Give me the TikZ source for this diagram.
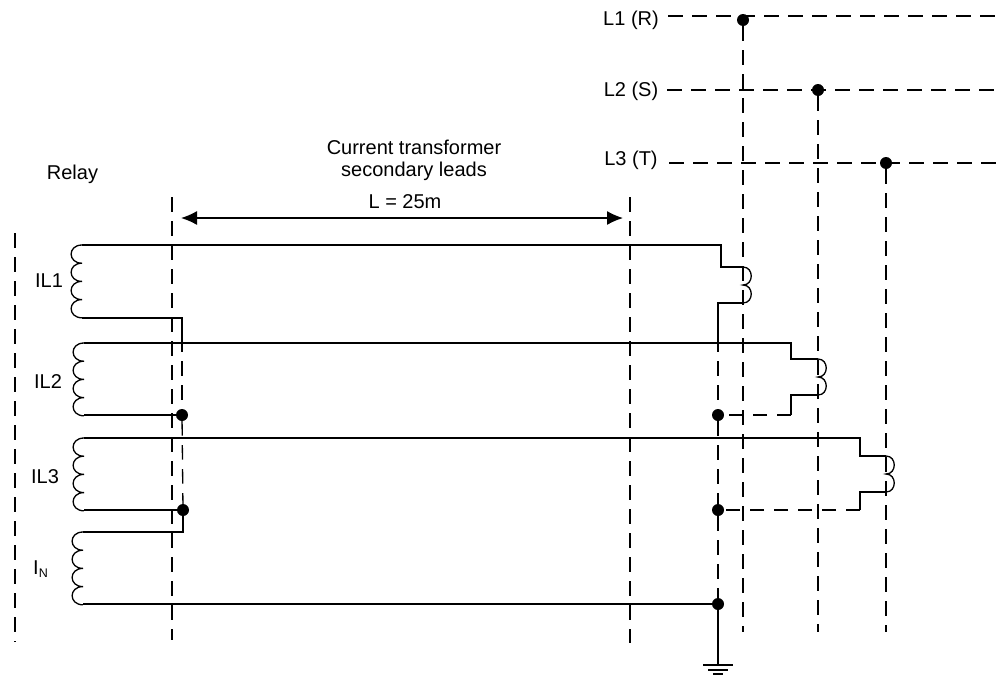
\documentclass[tikz,border=0pt]{standalone}
\usepackage{fontspec}
\setmainfont{Liberation Sans}
\usetikzlibrary{arrows.meta}
\tikzset{
    wire/.style = {line width=1.3pt,black},
    wired/.style = {line width=1.3pt,black,dash pattern=on 14.5pt off 9.5pt},
    edgeb/.style = {{Latex[length=16pt,width=14pt]}-{Latex[length=16pt,width=14pt]},line width=1.3pt},
    joint/.style = {circle,fill=black,draw=none,inner sep=0pt,minimum size=12pt},
    lab/.style = {inner sep=0pt,font=\fontsize{20}{24}\selectfont},
    coilr/.pic = {
        \draw[wire] (0,0) .. controls (-14.5,0) and (-14.5,18.2) .. (0,18.2)
            .. controls (-14.5,18.2) and (-14.5,36.4) .. (0,36.4)
            .. controls (-14.5,36.4) and (-14.5,54.6) .. (0,54.6)
            .. controls (-14.5,54.6) and (-14.5,72.8) .. (0,72.8);
    },
    coilt/.pic = {
        \draw[wire] (0,0) .. controls (11,0) and (11,18) .. (0,18)
            .. controls (11,18) and (11,36) .. (0,36);
    }
}
\begin{document}
\begin{tikzpicture}[x=1pt,y=-1pt]
\useasboundingbox (0,0) rectangle (996,675);
%
\node[lab] at (631,20) (l1) {L1 (R)};
\node[lab] at (631,91) (l2) {L2 (S)};
\node[lab] at (631,160) (l3) {L3 (T)};
\node[lab] at (72.5,174) (relay) {Relay};
\node[lab] at (414,147) (ct) {Current transformer};
\node[lab] at (414,171) (sec) {secondary leads};
\node[lab] at (405,202) (len) {L = 25m};
\node[lab] at (49,281) (il1) {IL1};
\node[lab] at (48,382) (il2) {IL2};
\node[lab] at (45,477) (il3) {IL3};
\node[lab,anchor=west] at (33,569) (in) {I\raisebox{-3pt}{\fontsize{12.5}{14}\selectfont N}};
%
\node[joint] at (743,20) (j1) {};
\node[joint] at (818,90) (j2) {};
\node[joint] at (886,163) (j3) {};
\node[joint] at (182,415) (ja) {};
\node[joint] at (183,510) (jb) {};
\node[joint] at (718,415) (jc) {};
\node[joint] at (718,510) (jd) {};
\node[joint] at (718,604) (je) {};
%
\coordinate (l1a) at (668,16);
\coordinate (l1b) at (996,16);
\coordinate (l2a) at (667,90);
\coordinate (l2b) at (996,90);
\coordinate (l3a) at (669,163);
\coordinate (l3b) at (996,163);
\coordinate (v1) at (743,632);
\coordinate (v2) at (818,632);
\coordinate (v3) at (886,632);
\coordinate (r0a) at (15,233);
\coordinate (r0b) at (15,642);
\coordinate (ma) at (172,197);
\coordinate (mb) at (172,640);
\coordinate (na) at (630,197);
\coordinate (nb) at (630,643);
\coordinate (aa) at (181,218);
\coordinate (ab) at (623,218);
%
\draw[wired] (l1a) -- (l1b);
\draw[wired] (l2a) -- (l2b);
\draw[wired] (l3a) -- (l3b);
\draw[wired] (j1) -- (v1);
\draw[wired] (j2) -- (v2);
\draw[wired] (j3) -- (v3);
\draw[wired] (r0a) -- (r0b);
\draw[wired] (ma) -- (mb);
\draw[wired] (na) -- (nb);
\draw[edgeb] (aa) -- (ab);
%
\pic at (82,245) {coilr};
\pic at (84,343) {coilr};
\pic at (84,438) {coilr};
\pic at (83,532) {coilr};
\pic at (743,267) {coilt};
\pic at (818,359) {coilt};
\pic at (886,456) {coilt};
%
\coordinate (c1a) at (82,245);
\coordinate (c1b) at (82,318);
\coordinate (c2a) at (84,343);
\coordinate (c2b) at (84,415);
\coordinate (c3a) at (84,438);
\coordinate (c3b) at (84,510);
\coordinate (c4a) at (83,532);
\coordinate (c4b) at (83,604);
\coordinate (t1a) at (743,267);
\coordinate (t1b) at (743,303);
\coordinate (t2a) at (818,359);
\coordinate (t2b) at (818,395);
\coordinate (t3a) at (886,456);
\coordinate (t3b) at (886,492);
\coordinate (s1) at (718,337);
%
\draw[wire] (c1a) -| (721,267) -- (t1a);
\draw[wire] (t1b) -| (s1);
\draw[wired] (s1) -- (jc);
\draw[wired] (jc) -- (jd);
\draw[wired] (jd) -- (je);
\draw[wire] (c1b) -- (182,318) -- (182,337);
\draw[wired] (182,337) -- (ja);
\draw[wired] (ja) -- (jb);
\draw[wire] (jb) -- (183,532) -- (c4a);
\draw[wire] (c2a) -| (791,359) -- (t2a);
\draw[wire] (t2b) -| (791,415);
\draw[wired] (791,415) -- (jc);
\draw[wire] (c2b) -- (ja);
\draw[wire] (c3a) -| (860,456) -- (t3a);
\draw[wire] (t3b) -| (860,510);
\draw[wired] (860,510) -- (jd);
\draw[wire] (c3b) -- (jb);
\draw[wire] (c4b) -- (je);
%
\coordinate (g0) at (718,665);
\coordinate (g1a) at (703,665);
\coordinate (g1b) at (733,665);
\coordinate (g2a) at (708,670);
\coordinate (g2b) at (728,670);
\coordinate (g3a) at (713,674);
\coordinate (g3b) at (723,674);
\draw[wire] (je) -- (g0);
\draw[wire] (g1a) -- (g1b);
\draw[wire] (g2a) -- (g2b);
\draw[wire] (g3a) -- (g3b);
\end{tikzpicture}
\end{document}
